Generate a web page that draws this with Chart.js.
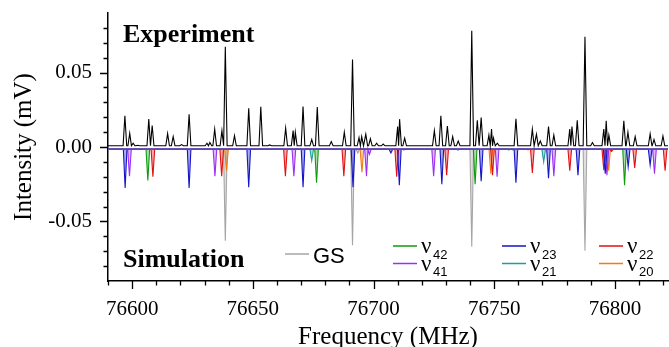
<!DOCTYPE html>
<html>
<head>
<meta charset="utf-8">
<script src="https://cdn.jsdelivr.net/npm/chart.js@4.4.1/dist/chart.umd.min.js"></script>
<style>
  html, body { margin: 0; padding: 0; background: #fff; }
  #wrap { width: 669px; height: 347px; }
</style>
</head>
<body>
<div id="wrap"><canvas id="c" width="669" height="347"></canvas></div>
<script>
// frequency range (MHz) and intensity range (mV)
const xMin = 76590;
const xMax = 76822;
const yMin = -0.09;
const yMax = 0.09;

const expBase = 0.0008;
const simBase = -0.0015;

// experiment peaks: [frequency, intensity]
const expPeaks = [
  [76597.0, 0.021], [76599.0, 0.0093], [76600.4, 0.0025], [76602.3, 0.0012],
  [76606.9, 0.0187], [76608.3, 0.0144], [76614.7, 0.009], [76617.0, 0.007],
  [76620.5, 0.0016], [76623.6, 0.022], [76631.0, 0.0025], [76632.2, 0.003],
  [76634.2, 0.012], [76637.2, 0.011], [76638.6, 0.0674], [76642.4, 0.0076],
  [76648.3, 0.026], [76653.3, 0.027], [76657.0, 0.0014], [76663.6, 0.0126],
  [76666.7, 0.011], [76667.6, 0.010], [76670.8, 0.0272], [76674.4, 0.005],
  [76676.7, 0.0268], [76682.5, 0.0036], [76687.9, 0.010], [76691.3, 0.0588],
  [76694.0, 0.0063], [76695.1, 0.007], [76696.8, 0.0086], [76698.7, 0.0055],
  [76701.3, 0.0025], [76704.0, 0.002], [76710.0, 0.0137], [76710.8, 0.0187],
  [76712.9, 0.006], [76725.2, 0.011], [76727.9, 0.021], [76730.6, 0.014],
  [76732.8, 0.007], [76735.1, 0.004], [76740.7, 0.078], [76743.0, 0.018],
  [76744.6, 0.0198], [76747.8, 0.008], [76748.9, 0.012], [76749.7, 0.006],
  [76751.3, 0.0025], [76759.0, 0.019], [76765.8, 0.012], [76767.5, 0.0086],
  [76769.1, 0.004], [76772.5, 0.0137], [76774.7, 0.008], [76781.3, 0.012],
  [76782.2, 0.0137], [76784.4, 0.018], [76787.6, 0.074], [76790.7, 0.003],
  [76795.4, 0.012], [76796.4, 0.0176], [76797.5, 0.008], [76803.7, 0.0176],
  [76805.4, 0.010], [76808.4, 0.007], [76814.6, 0.0088], [76816.2, 0.005],
  [76819.9, 0.0074]
];

// simulated lines per state: [frequency, intensity]
const gsPeaks = [[76638.6, -0.063], [76691.3, -0.066], [76693.5, -0.004], [76740.7, -0.067], [76787.6, -0.0696]];
const v23Peaks = [
  [76597.1, -0.0275], [76623.6, -0.0275], [76648.3, -0.027], [76670.8, -0.027],
  [76691.5, -0.027], [76707.2, -0.004], [76710.7, -0.0257], [76728.3, -0.025],
  [76735.0, -0.002], [76744.6, -0.023], [76759.0, -0.024], [76772.5, -0.021],
  [76784.7, -0.019], [76796.0, -0.018], [76805.5, -0.0133], [76814.6, -0.012]
];
const v41Peaks = [
  [76598.9, -0.0196], [76634.3, -0.0196], [76667.0, -0.0196], [76697.1, -0.0196],
  [76698.3, -0.005], [76712.5, -0.002], [76724.9, -0.0196], [76751.2, -0.020],
  [76774.7, -0.0196], [76796.7, -0.019], [76816.4, -0.018]
];
const v42Peaks = [
  [76606.5, -0.0225], [76676.4, -0.024], [76742.1, -0.025], [76756.0, -0.002],
  [76757.8, -0.002], [76804.0, -0.0257]
];
const v22Peaks = [
  [76608.6, -0.020], [76637.1, -0.0196], [76663.5, -0.0196], [76687.7, -0.0196],
  [76709.6, -0.020], [76730.3, -0.019], [76749.3, -0.019], [76765.8, -0.0174],
  [76781.3, -0.016], [76795.4, -0.0155], [76798.6, -0.003], [76808.2, -0.014],
  [76820.8, -0.016]
];
const v21Peaks = [[76674.4, -0.0092], [76770.5, -0.010]];
const v20Peaks = [[76639.1, -0.016], [76695.2, -0.017], [76748.6, -0.018], [76764.0, -0.002], [76797.4, -0.016]];

const colors = {
  exp: "#000000",
  gs: "#a6a6a6",
  v42: "#119911",
  v41: "#9b30f2",
  v23: "#1515c8",
  v21: "#1f9c9c",
  v22: "#e01212",
  v20: "#f07b12",
  base: "#4a4ad8",
};

// each line as a narrow spike on its baseline
function spikes (peaks, base, hw) {

  const sorted = peaks.slice().sort((a, b) => a[0] - b[0]);
  const pts = [{ x: xMin, y: base }];

  sorted.forEach(([f, h], i) => {

    const prev = sorted[i - 1];
    const next = sorted[i + 1];
    let l = f - hw;
    let r = f + hw;
    if (prev && prev[0] + hw > l) l = (prev[0] + f) / 2;
    if (next && next[0] - hw < r) r = (next[0] + f) / 2;
    pts.push({ x: l, y: base }, { x: f, y: h }, { x: r, y: base });

  });
  pts.push({ x: xMax, y: base });

  return pts;

}

function alpha (hex, a) {

  const n = parseInt(hex.slice(1), 16);

  return `rgba(${n >> 16}, ${(n >> 8) & 255}, ${n & 255}, ${a})`;

}

function simSet (peaks, color) {

  return {
    data: spikes(peaks, simBase, 0.75),
    borderColor: color,
    backgroundColor: alpha(color, 0.35),
    borderWidth: 1.1,
    fill: { value: simBase },
  };

}

const datasets = [
  { data: spikes(expPeaks, expBase, 0.75), borderColor: colors.exp, borderWidth: 1.1, fill: false },
  { data: [{ x: xMin, y: simBase }, { x: xMax, y: simBase }], borderColor: colors.base, borderWidth: 1.3, fill: false },
  simSet(v23Peaks, colors.v23),
  simSet(v41Peaks, colors.v41),
  simSet(v22Peaks, colors.v22),
  simSet(v20Peaks, colors.v20),
  simSet(v42Peaks, colors.v42),
  simSet(v21Peaks, colors.v21),
  simSet(gsPeaks, colors.gs),
];

const serif = "'Liberation Serif', 'Times New Roman', serif";
const sans = "'Liberation Sans', Arial, sans-serif";

// tick marks: long at labelled values, short in between
const tickMarks = {
  id: "tickMarks",
  afterDraw (chart) {

    const { ctx, scales: { x, y } } = chart;
    ctx.save();
    ctx.strokeStyle = "#000";
    ctx.lineWidth = 1.3;
    ctx.beginPath();
    for (let v = xMin; v <= xMax; v += 10) {

      const px = Math.round(x.getPixelForValue(v)) + 0.5;
      const len = v % 50 === 0 ? 8 : 4.5;
      ctx.moveTo(px, y.bottom);
      ctx.lineTo(px, y.bottom + len);

    }
    for (let k = -8; k <= 8; k++) {

      const py = Math.round(y.getPixelForValue(k / 100)) + 0.5;
      const len = k % 5 === 0 ? 8 : 4.5;
      ctx.moveTo(x.left, py);
      ctx.lineTo(x.left - len, py);

    }
    ctx.stroke();
    ctx.restore();

  },
};

// panel captions and the legend with sub-indexed labels
const captions = {
  id: "captions",
  afterDraw (chart) {

    const { ctx } = chart;
    ctx.save();
    ctx.fillStyle = "#000";
    ctx.textBaseline = "alphabetic";
    ctx.font = `bold 26px ${serif}`;
    ctx.fillText("Experiment", 123, 42);
    ctx.fillText("Simulation", 123, 267);

    ctx.lineWidth = 1.5;
    ctx.strokeStyle = colors.gs;
    ctx.beginPath();
    ctx.moveTo(285, 254);
    ctx.lineTo(309, 254);
    ctx.stroke();
    ctx.font = `22px ${sans}`;
    ctx.textBaseline = "middle";
    ctx.fillText("GS", 313, 257);

    const items = [
      [393, 246, colors.v42, "42"], [393, 263.5, colors.v41, "41"],
      [502, 246, colors.v23, "23"], [502, 263.5, colors.v21, "21"],
      [599, 246, colors.v22, "22"], [599, 263.5, colors.v20, "20"],
    ];
    items.forEach(([lx, ly, c, sub]) => {

      ctx.strokeStyle = c;
      ctx.beginPath();
      ctx.moveTo(lx, ly);
      ctx.lineTo(lx + 24, ly);
      ctx.stroke();
      ctx.font = `23px ${serif}`;
      ctx.fillText("\u03bd", lx + 28, ly + 1);
      ctx.font = `13px ${sans}`;
      ctx.fillText(sub, lx + 40, ly + 9);

    });
    ctx.restore();

  },
};

new Chart(document.getElementById("c"), {
  type: "line",
  data: { datasets },
  options: {
    responsive: false,
    animation: false,
    parsing: false,
    layout: { padding: { top: 13, right: 1, left: 0, bottom: 0 } },
    elements: {
      point: { radius: 0 },
      line: { tension: 0 },
    },
    plugins: {
      legend: { display: false },
      tooltip: { enabled: false },
    },
    scales: {
      x: {
        type: "linear",
        min: xMin,
        max: xMax,
        afterFit (scale) {

          scale.height = 66;
          scale.paddingLeft = 0;
          scale.paddingRight = 0;

        },
        border: { display: true, color: "#000", width: 1.5 },
        grid: { display: true, drawOnChartArea: false, drawTicks: true, tickLength: 8, tickColor: "rgba(0,0,0,0)" },
        ticks: {
          stepSize: 10,
          autoSkip: false,
          maxRotation: 0,
          padding: 8,
          color: "#000",
          font: { family: serif, size: 21 },
          callback: (v) => (v % 50 === 0 ? String(v) : ""),
        },
        title: {
          display: true,
          text: "Frequency (MHz)",
          color: "#000",
          font: { family: serif, size: 25, lineHeight: 0.8 },
          padding: { top: 0, bottom: 0 },
        },
      },
      y: {
        min: yMin,
        max: yMax,
        afterFit (scale) {

          scale.width = 108;
          scale.paddingTop = 0;
          scale.paddingBottom = 0;

        },
        border: { display: true, color: "#000", width: 1.5 },
        grid: { display: true, drawOnChartArea: false, drawTicks: true, tickLength: 8, tickColor: "rgba(0,0,0,0)" },
        ticks: {
          stepSize: 0.01,
          autoSkip: false,
          padding: 8,
          color: "#000",
          font: { family: serif, size: 21 },
          callback: (v) => {

            const k = Math.round(v * 100);

            return k % 5 === 0 && Math.abs(k) < 9 ? (k / 100).toFixed(2) : "";

          },
        },
        title: {
          display: true,
          text: "Intensity (mV)",
          color: "#000",
          font: { family: serif, size: 25, lineHeight: 1 },
          padding: { top: 12, bottom: 0 },
        },
      },
    },
  },
  plugins: [tickMarks, captions],
});
</script>
</body>
</html>
